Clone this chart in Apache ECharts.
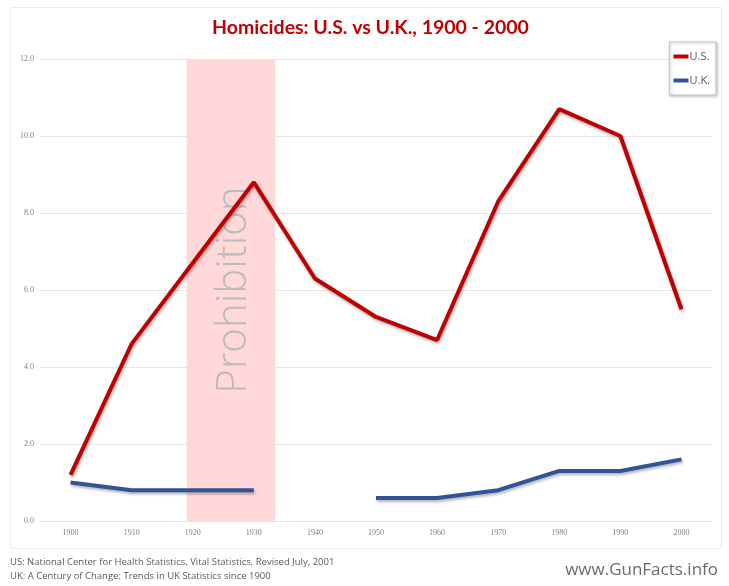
<!DOCTYPE html>
<html>
<head>
<meta charset="utf-8">
<script src="https://cdn.jsdelivr.net/npm/echarts@6/dist/echarts.min.js"></script>
<style>
  html, body { margin: 0; padding: 0; background: #fff; }
  #chart { width: 729px; height: 586px; }
</style>
</head>
<body>
<div id="chart"></div>
<script>
// data
const years = ["1900", "1910", "1920", "1930", "1940", "1950", "1960", "1970", "1980", "1990", "2000"];
const usRates = [1.2, 4.6, 6.7, 8.8, 6.3, 5.3, 4.7, 8.3, 10.7, 10.0, 5.5];
const ukRates = [1.0, 0.8, 0.8, 0.8, null, 0.6, 0.6, 0.8, 1.3, 1.3, 1.6];
const prohibition = [1919, 1933.5]; // shaded span, in years
const sourceLines = [
  "US: National Center for Health Statistics, Vital Statistics, Revised July, 2001",
  "UK: A Century of Change: Trends in UK Statistics since 1900"
];

const RED = "#C00000";
const BLUE = "#2F5597";

const chart = echarts.init(document.getElementById("chart"));

const lineShadow = {
  shadowColor: "rgba(0,0,0,0.3)",
  shadowBlur: 3,
  shadowOffsetX: 1,
  shadowOffsetY: 2
};

chart.setOption({
  animation: false,
  title: {
    text: "Homicides: U.S. vs U.K., 1900 - 2000",
    left: 207,
    top: 13,
    textStyle: { color: RED, fontSize: 19.5, fontWeight: "bold", fontFamily: "Lato" }
  },
  legend: {
    orient: "vertical",
    right: 13,
    top: 42,
    data: ["U.S.", "U.K."],
    icon: "rect",
    itemWidth: 15,
    itemHeight: 4,
    itemGap: 13,
    padding: [9, 6, 9, 4],
    backgroundColor: "#fff",
    borderColor: "#c8c8c8",
    borderWidth: 1,
    shadowColor: "rgba(0,0,0,0.25)",
    shadowBlur: 3,
    shadowOffsetX: 1,
    shadowOffsetY: 1,
    textStyle: { color: "#595959", fontSize: 11, fontFamily: "Open Sans", padding: [0, 0, 0, -4] }
  },
  grid: { left: 40, right: 17, top: 59, bottom: 65 },
  xAxis: [
    {
      type: "category",
      data: years,
      boundaryGap: true,
      axisTick: { show: false },
      axisLine: { lineStyle: { color: "#e3e3e3" } },
      axisLabel: { color: "#808080", fontSize: 8, fontFamily: "Liberation Serif", margin: 8 }
    },
    { type: "value", min: 1895, max: 2005, show: false }
  ],
  yAxis: {
    type: "value",
    min: 0,
    max: 12,
    interval: 2,
    axisLine: { show: false },
    axisTick: { show: false },
    splitLine: { lineStyle: { color: "#e8e8e8" } },
    axisLabel: {
      color: "#808080",
      fontSize: 8,
      fontFamily: "Liberation Serif",
      margin: 6,
      formatter: (v) => v.toFixed(1)
    }
  },
  series: [
    {
      name: "band",
      type: "line",
      xAxisIndex: 1,
      data: [],
      z: 1,
      silent: true,
      markArea: {
        silent: true,
        itemStyle: { color: "#FFD9D9" },
        label: {
          show: true,
          position: "inside",
          rotate: 90,
          offset: [0, 3],
          color: "#BBBBBB",
          fontSize: 42,
          fontFamily: "Open Sans",
          fontWeight: 300
        },
        data: [[
          { name: "Prohibition", xAxis: prohibition[0], yAxis: 0 },
          { xAxis: prohibition[1], yAxis: 12 }
        ]]
      }
    },
    {
      name: "U.S.",
      type: "line",
      data: usRates,
      z: 3,
      symbol: "none",
      color: RED,
      lineStyle: Object.assign({ width: 4, color: RED }, lineShadow)
    },
    {
      name: "U.K.",
      type: "line",
      data: ukRates,
      z: 3,
      symbol: "none",
      connectNulls: false,
      color: BLUE,
      lineStyle: Object.assign({ width: 4, color: BLUE }, lineShadow)
    }
  ],
  graphic: [
    {
      type: "rect",
      silent: true,
      z: -1,
      shape: { x: 10.5, y: 7.5, width: 711, height: 541 },
      style: { fill: "none", stroke: "#ececec", lineWidth: 1 }
    },
    {
      type: "text",
      left: 10,
      top: 557,
      style: { text: sourceLines[0], fill: "#595959", fontSize: 9.5, fontFamily: "Open Sans" }
    },
    {
      type: "text",
      left: 10,
      top: 571,
      style: { text: sourceLines[1], fill: "#595959", fontSize: 9.5, fontFamily: "Open Sans" }
    },
    {
      type: "text",
      right: 11,
      top: 562,
      style: { text: "www.GunFacts.info", fill: "#6b6b6b", fontSize: 17, fontFamily: "Open Sans" }
    }
  ]
});
</script>
</body>
</html>
